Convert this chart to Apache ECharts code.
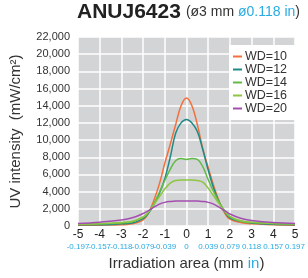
<!DOCTYPE html>
<html>
<head>
<meta charset="utf-8">
<script src="https://cdn.jsdelivr.net/npm/echarts@6/dist/echarts.min.js"></script>
<style>
  html, body { margin: 0; padding: 0; background: #fff; }
  #chart { width: 308px; height: 278px; }
</style>
</head>
<body>
<div id="chart"></div>
<script>
// distance from centre, mm
const xs = [-5, -4, -3, -2.5, -2, -1.75, -1.5, -1.25, -1, -0.75, -0.5, -0.25, 0,
  0.25, 0.5, 0.75, 1, 1.25, 1.5, 1.75, 2, 2.5, 3, 4, 5];

// tick labels, mm and inch
const mmTicks = ["-5", "-4", "-3", "-2", "-1", "0", "1", "2", "3", "4", "5"];
const inchTicks = ["-0.197", "-0.157", "-0.118", "-0.079", "-0.039", "0",
  "0.039", "0.079", "0.118", "0.157", "0.197"];

const names = ["WD=10", "WD=12", "WD=14", "WD=16", "WD=20"];
const colors = ["#f36f3b", "#1f8a86", "#62bb46", "#8dc641", "#a44fb0"];

const wd10 = [80, 100, 150, 250, 700, 1500, 3000, 4900, 7300, 9500, 11800, 14000, 14900,
  14000, 11800, 9000, 6800, 4700, 2900, 1550, 800, 400, 250, 150, 80];
const wd12 = [150, 150, 250, 350, 850, 1500, 2500, 3800, 5500, 8000, 10800, 12000, 12400,
  12000, 11000, 8900, 6500, 4400, 2800, 1700, 950, 550, 350, 200, 150];
const wd14 = [200, 250, 350, 500, 1000, 1600, 2600, 3900, 5300, 6600, 7600, 7850, 7750,
  7850, 7750, 6900, 5400, 4000, 2800, 1800, 1100, 550, 400, 300, 200];
const wd16 = [200, 250, 400, 550, 1050, 1600, 2500, 3400, 4300, 5000, 5300, 5350, 5350,
  5350, 5300, 5100, 4400, 3500, 2600, 1750, 1100, 600, 450, 300, 250];
const wd20 = [300, 450, 700, 950, 1450, 1800, 2200, 2550, 2750, 2850, 2900, 2900, 2900,
  2900, 2900, 2850, 2750, 2550, 2200, 1800, 1400, 900, 650, 400, 300];

const seriesValues = [wd10, wd12, wd14, wd16, wd20];

const font = "'Liberation Sans', Arial, sans-serif";
const blue = "#29abe2";

const chart = echarts.init(document.getElementById("chart"));

chart.setOption({
  animation: false,
  textStyle: { fontFamily: font },
  title: {
    left: 77,
    top: 2,
    padding: 0,
    text: "{a|ANUJ6423} {b|(ø3 mm }{c|ø0.118 in}{b|)}",
    textStyle: {
      rich: {
        a: { fontFamily: font, fontSize: 21, fontWeight: "bold", color: "#222" },
        b: { fontFamily: font, fontSize: 14, fontWeight: "normal", color: "#333" },
        c: { fontFamily: font, fontSize: 14, fontWeight: "normal", color: blue }
      }
    }
  },
  grid: {
    left: 77,
    right: 7,
    top: 37,
    bottom: 52,
    show: true,
    backgroundColor: "#d3d4d6",
    borderWidth: 0
  },
  legend: {
    orient: "vertical",
    left: 229,
    top: 45,
    backgroundColor: "#fff",
    padding: [5, 10, 5, 4],
    itemGap: 0,
    itemWidth: 9,
    itemHeight: 2,
    icon: "rect",
    textStyle: { fontFamily: font, fontSize: 12.5, color: "#333", lineHeight: 11.7, padding: [0, 0, 0, -2] },
    data: names
  },
  xAxis: [
    {
      // value scale for the curves
      type: "value",
      min: -5,
      max: 5,
      interval: 1,
      axisLine: { show: false },
      axisTick: { show: false },
      axisLabel: { show: false },
      splitLine: { lineStyle: { color: "#fff", width: 1.5 } }
    },
    {
      // category twin so every tick label stays visible
      type: "category",
      position: "bottom",
      boundaryGap: false,
      data: mmTicks,
      axisLine: { show: false },
      axisTick: { show: false },
      splitLine: { show: false },
      axisLabel: {
        interval: 0,
        margin: 3,
        hideOverlap: false,
        formatter: (v, i) => "{a|" + v + "}\n{b|" + inchTicks[i] + "}",
        rich: {
          a: { fontFamily: font, fontSize: 12, color: "#222", lineHeight: 12 },
          b: { fontFamily: "'Liberation Sans Narrow', " + font, fontSize: 8, color: blue, lineHeight: 12 }
        }
      },
      name: "{a|Irradiation area (mm }{b|in}{a|)}",
      nameLocation: "middle",
      nameGap: 29,
      nameTextStyle: {
        rich: {
          a: { fontFamily: font, fontSize: 15, color: "#333" },
          b: { fontFamily: font, fontSize: 15, color: blue }
        }
      }
    }
  ],
  yAxis: {
    type: "value",
    min: 0,
    max: 22000,
    interval: 2000,
    axisLine: { show: false },
    axisTick: { show: false },
    splitLine: { lineStyle: { color: "#fff", width: 1.5 } },
    axisLabel: {
      margin: 8,
      fontSize: 11,
      color: "#333",
      formatter: v => v.toLocaleString("en-US")
    },
    name: "UV intensity  (mW/cm²)",
    nameLocation: "middle",
    nameGap: 55,
    nameTextStyle: { fontFamily: font, fontSize: 15, color: "#333" }
  },
  series: seriesValues.map((vals, i) => ({
    name: names[i],
    type: "line",
    xAxisIndex: 0,
    smooth: 0.4,
    showSymbol: false,
    color: colors[i],
    lineStyle: { width: 1.5, color: colors[i] },
    data: xs.map((x, j) => [x, vals[j]])
  }))
});
</script>
</body>
</html>
